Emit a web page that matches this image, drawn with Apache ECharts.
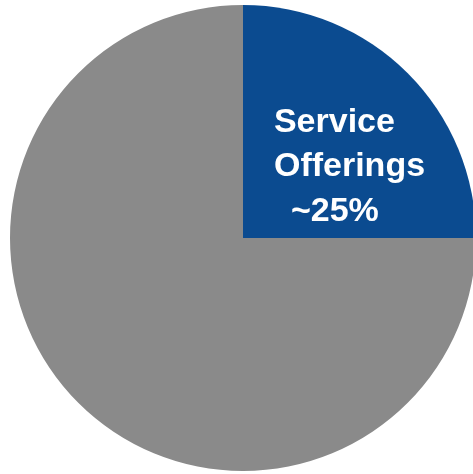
<!DOCTYPE html>
<html>
<head>
<meta charset="utf-8">
<style>
  html, body { margin: 0; padding: 0; background: #ffffff; }
  #chart { width: 473px; height: 474px; }
</style>
<script src="https://cdn.jsdelivr.net/npm/echarts@6/dist/echarts.min.js"></script>
</head>
<body>
<div id="chart"></div>
<script>
// Share of revenue by segment
const categories = ['Service Offerings', 'Other'];
const shares = [25, 75];
const sliceColors = ['#0b4b90', '#8a8a8a'];

const chart = echarts.init(document.getElementById('chart'), null, { renderer: 'canvas' });

const data = categories.map((name, i) => ({
  name: name,
  value: shares[i],
  itemStyle: { color: sliceColors[i] },
  label: i === 0 ? {
    show: true,
    position: 'inside',
    offset: [22, 14],
    formatter: (p) => '{a|Service}\n{a|Offerings}\n{b|~' + p.value + '%}',
    rich: {
      a: {
        fontFamily: 'Liberation Sans, Arial, sans-serif',
        fontWeight: 'bold',
        fontSize: 34,
        lineHeight: 44,
        color: '#ffffff',
        align: 'left'
      },
      b: {
        fontFamily: 'Liberation Sans, Arial, sans-serif',
        fontWeight: 'bold',
        fontSize: 34,
        lineHeight: 46,
        color: '#ffffff',
        align: 'left',
        padding: [0, 0, 0, 17]
      }
    }
  } : { show: false }
}));

chart.setOption({
  backgroundColor: '#ffffff',
  animation: false,
  series: [{
    type: 'pie',
    center: [243, 238],
    radius: [0, 233],
    startAngle: 90,
    clockwise: true,
    avoidLabelOverlap: false,
    itemStyle: { borderWidth: 0 },
    emphasis: { disabled: true },
    labelLine: { show: false },
    data: data
  }]
});
</script>
</body>
</html>
